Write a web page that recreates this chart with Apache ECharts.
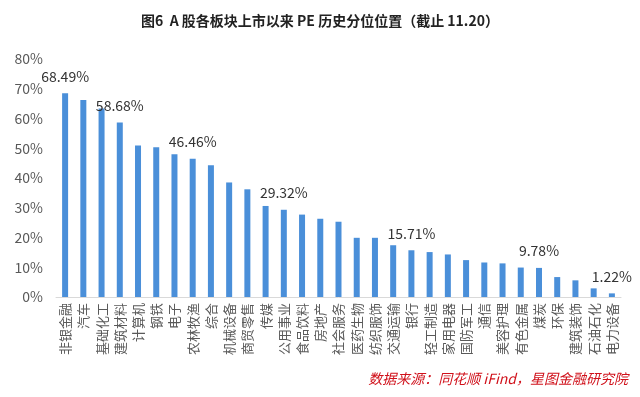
<!DOCTYPE html>
<html>
<head>
<meta charset="utf-8">
<script src="https://cdn.jsdelivr.net/npm/echarts@6/dist/echarts.min.js"></script>
<style>
  html, body { margin: 0; padding: 0; background: #fff; }
  #chart { width: 640px; height: 397px; }
</style>
</head>
<body>
<div id="chart"></div>
<script>
var fontsty = 'Noto Sans CJK SC';
var categories = ['非银金融', '汽车', '基础化工', '建筑材料', '计算机', '钢铁', '电子', '农林牧渔', '综合', '机械设备',
  '商贸零售', '传媒', '公用事业', '食品饮料', '房地产', '社会服务', '医药生物', '纺织服饰', '交通运输', '银行',
  '轻工制造', '家用电器', '国防军工', '通信', '美容护理', '有色金属', '煤炭', '环保', '建筑装饰', '石油石化', '电力设备'];
var values = [68.49, 66.2, 63.4, 58.68, 50.9, 50.3, 48.0, 46.46, 44.3, 38.5,
  36.2, 30.6, 29.32, 27.7, 26.3, 25.3, 19.9, 19.9, 17.4, 15.71,
  15.1, 14.3, 12.4, 11.6, 11.3, 9.9, 9.78, 6.7, 5.6, 2.9, 1.22];
// bars that carry a value label
var labelled = ['非银金融', '建筑材料', '农林牧渔', '公用事业', '银行', '煤炭', '电力设备'];
var yTicks = [0, 10, 20, 30, 40, 50, 60, 70, 80];

var myChart = echarts.init(document.getElementById('chart'));
var seriesData = values.map(function (v, i) {
  var item = { value: v };
  if (labelled.indexOf(categories[i]) >= 0) {
    item.label = { show: true };
  }
  return item;
});

var option = {
  animation: false,
  backgroundColor: '#ffffff',
  title: {
    text: '图6  A 股各板块上市以来 PE 历史分位位置（截止 11.20）',
    left: 'center',
    top: 9,
    textStyle: {
      fontSize: 14,
      fontWeight: 'bold',
      color: '#222',
      fontFamily: fontsty
    }
  },
  grid: { left: 56, right: 19, top: 59, bottom: 100 },
  xAxis: {
    type: 'category',
    data: categories,
    axisLine: { lineStyle: { color: '#d9d9d9' } },
    axisTick: { show: false },
    axisLabel: {
      interval: 0,
      rotate: 90,
      margin: 6,
      fontSize: 13,
      color: '#595959',
      fontFamily: fontsty
    }
  },
  yAxis: {
    type: 'value',
    min: yTicks[0],
    max: yTicks[yTicks.length - 1],
    interval: 10,
    splitLine: { show: false },
    axisLine: { show: false },
    axisTick: { show: false },
    axisLabel: {
      formatter: '{value}%',
      margin: 13,
      fontSize: 14,
      color: '#595959',
      fontFamily: fontsty
    }
  },
  series: [{
    type: 'bar',
    data: seriesData,
    barWidth: 6,
    itemStyle: { color: '#4a8fd9' },
    label: {
      show: false,
      position: 'top',
      distance: 10,
      formatter: function (p) { return p.value.toFixed(2) + '%'; },
      fontSize: 14,
      color: '#333',
      fontFamily: fontsty
    }
  }],
  graphic: [{
    type: 'text',
    right: 12,
    top: 372,
    style: {
      text: '数据来源：同花顺 iFind，星图金融研究院',
      fill: '#d0101a',
      font: 'italic 14px "Noto Sans CJK SC"'
    }
  }]
};
myChart.setOption(option);
</script>
</body>
</html>
